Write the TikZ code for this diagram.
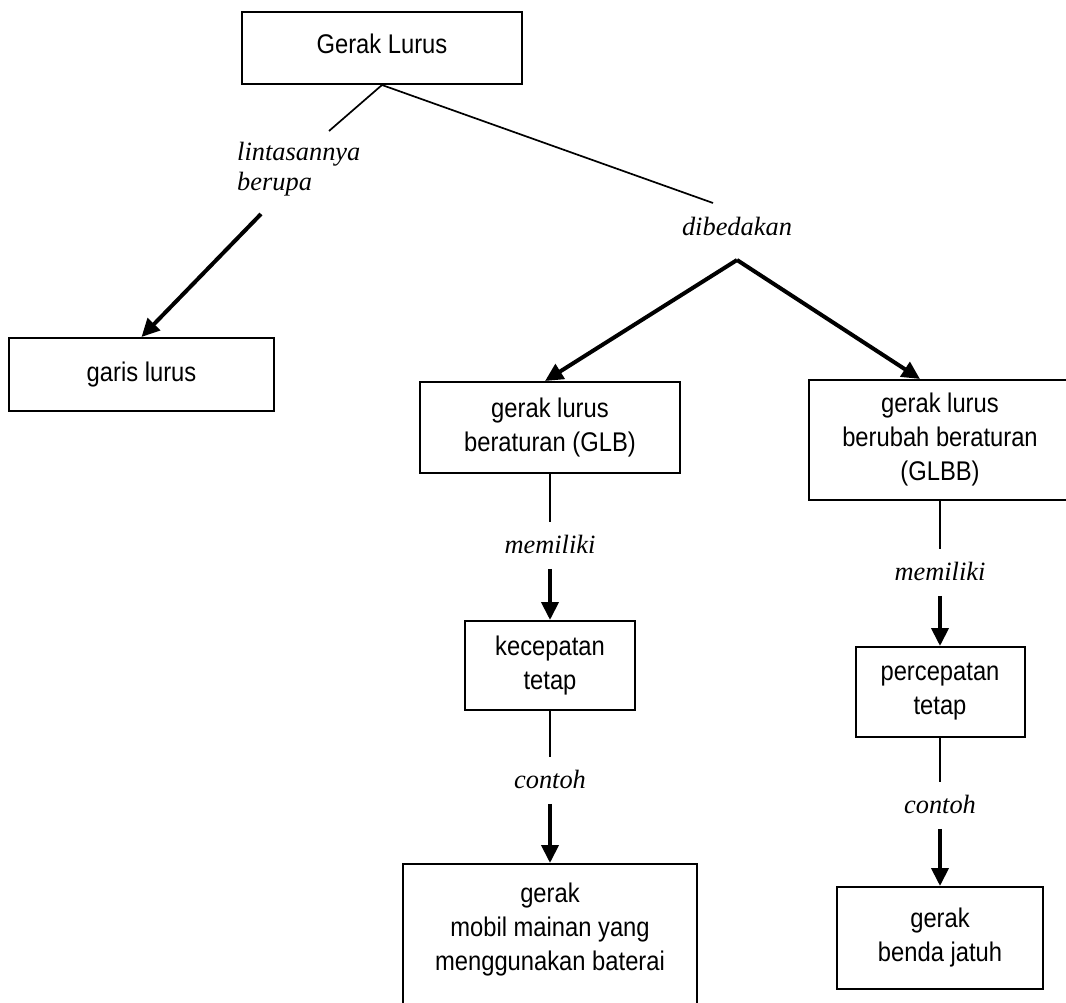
\documentclass[tikz,border=0pt]{standalone}
\usepackage{fontspec}
\setmainfont{Liberation Serif}
\newfontfamily\boxfont[FakeStretch=0.88]{Liberation Sans}
\usetikzlibrary{arrows.meta,calc}

\begin{document}
\begin{tikzpicture}[x=1pt, y=-1pt,
  concept/.style={draw, line width=2pt, align=center, inner sep=0pt,
    font=\boxfont\fontsize{27}{34}\selectfont},
  linkfont/.style={font=\itshape\fontsize{26.4}{30}\selectfont},
  linkword/.style={linkfont, text height=18pt, text depth=2.7pt,
    inner xsep=2pt, inner ysep=13pt},
  link/.style={line width=1.7pt},
  leadsto/.style={line width=4pt, -{Triangle[length=18pt, width=17pt]}}]
  \useasboundingbox (0,0) rectangle (1066,1003);

  \node[concept, minimum width=280pt, minimum height=72pt, text depth=9pt]
    (lurus) at (382,48) {Gerak Lurus};
  \node[concept, minimum width=265pt, minimum height=73pt]
    (garis) at (141.5,374.5) {garis lurus};
  \node[concept, minimum width=260pt, minimum height=91pt]
    (glb) at (550,427.5) {gerak lurus\\beraturan (GLB)};
  \node[concept, minimum width=262pt, minimum height=120pt]
    (glbb) at (940,440) {gerak lurus\\berubah beraturan\\(GLBB)};
  \node[concept, minimum width=170pt, minimum height=89pt]
    (kec) at (550,665.5) {kecepatan\\tetap};
  \node[concept, minimum width=169pt, minimum height=90pt]
    (perc) at (940,692) {percepatan\\tetap};
  \node[concept, minimum width=294pt, anchor=north, inner ysep=19pt, text depth=110pt]
    (mobil) at (550,863) {gerak\\mobil mainan yang\\menggunakan baterai};
  \node[concept, minimum width=206pt, minimum height=102pt]
    (benda) at (940,938) {gerak\\benda jatuh};

  \node[linkfont, align=left, anchor=north west, inner sep=0pt]
    (lintas) at (237,142) {lintasannya\\berupa};
  \node[linkword, anchor=base] (dib) at (737,236) {dibedakan};
  \node[linkword, anchor=base] (mem1) at (550,553) {memiliki};
  \node[linkword, anchor=base] (mem2) at (940,580) {memiliki};
  \node[linkword, anchor=base] (con1) at (550,788) {contoh};
  \node[linkword, anchor=base] (con2) at (940,813) {contoh};

  \coordinate (lintasend) at (329,131);
  \coordinate (lintasstart) at (261,214);
  \coordinate (dibend) at (713,203);
  \coordinate (split) at (737,260);

  \draw[link] (lurus.south) -- (lintasend);
  \draw[link] (lurus.south) -- (dibend);
  \draw[leadsto] (lintasstart) -- (garis.north);
  \draw[leadsto] (split) -- ($(glb.north)+(-5,0)$);
  \draw[leadsto] (split) -- ($(glbb.north)+(-20,0)$);

  \draw[link] (glb.south) -- (mem1.north);
  \draw[leadsto] (mem1.south) -- (kec.north);
  \draw[link] (kec.south) -- (con1.north);
  \draw[leadsto] (con1.south) -- (mobil.north);

  \draw[link] (glbb.south) -- (mem2.north);
  \draw[leadsto] (mem2.south) -- (perc.north);
  \draw[link] (perc.south) -- (con2.north);
  \draw[leadsto] (con2.south) -- (benda.north);
\end{tikzpicture}
\end{document}
